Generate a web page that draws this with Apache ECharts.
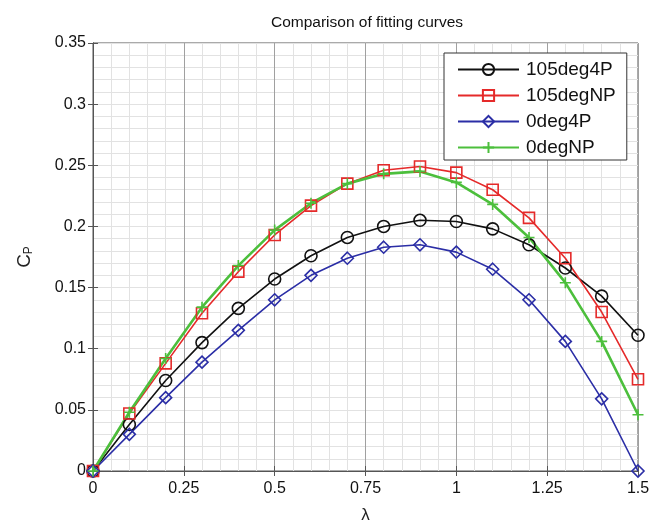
<!DOCTYPE html>
<html>
<head>
<meta charset="utf-8">
<script src="https://cdn.jsdelivr.net/npm/echarts@6/dist/echarts.min.js"></script>
<style>
html,body{margin:0;padding:0;background:#fff;}
#chart{width:653px;height:524px;}
</style>
</head>
<body>
<div id="chart"></div>
<script>
const lambda = [0, 0.1, 0.2, 0.3, 0.4, 0.5, 0.6, 0.7, 0.8, 0.9, 1.0, 1.1, 1.2, 1.3, 1.4, 1.5];
const cp105deg4P = [0, 0.038, 0.074, 0.105, 0.133, 0.157, 0.176, 0.191, 0.200, 0.205, 0.204, 0.198, 0.185, 0.166, 0.143, 0.111];
const cp105degNP = [0, 0.047, 0.088, 0.129, 0.163, 0.193, 0.217, 0.235, 0.246, 0.249, 0.244, 0.230, 0.207, 0.174, 0.130, 0.075];
const cp0deg4P   = [0, 0.030, 0.060, 0.089, 0.115, 0.140, 0.160, 0.174, 0.183, 0.185, 0.179, 0.165, 0.140, 0.106, 0.059, 0.000];
const cp0degNP   = [0, 0.048, 0.092, 0.134, 0.168, 0.197, 0.219, 0.235, 0.243, 0.245, 0.236, 0.218, 0.191, 0.154, 0.106, 0.046];
const seriesNames = ['105deg4P', '105degNP', '0deg4P', '0degNP'];
const xTicks = [0, 0.25, 0.5, 0.75, 1, 1.25, 1.5];

const FONT = '"Liberation Sans", Arial, sans-serif';
const pair = ys => lambda.map((x, i) => [x, ys[i]]);

const chart = echarts.init(document.getElementById('chart'), null, {renderer: 'canvas'});

function mkSeries(name, ys, color, symbol, size, lw) {
  return {
    name: name, type: 'line', data: pair(ys),
    symbol: symbol, symbolSize: size, showAllSymbol: true,
    lineStyle: {color: color, width: lw},
    itemStyle: {color: 'rgba(255,255,255,0)', borderColor: color, borderWidth: 1.6},
    emphasis: {disabled: true},
    z: 5
  };
}

const plusPath = 'path://M0,5 L10,5 M5,0 L5,10';

const option = {
  animation: false,
  backgroundColor: '#fff',
  textStyle: {fontFamily: FONT},
  title: {
    text: 'Comparison of fitting curves',
    left: 362, top: 10, textAlign: 'center',
    textStyle: {fontFamily: FONT, fontSize: 15.5, fontWeight: 'normal', color: '#111'}
  },
  legend: {
    orient: 'vertical',
    left: 444, top: 53,
    padding: [7, 11, 3, 13],
    itemWidth: 61, itemHeight: 14, itemGap: 7,
    backgroundColor: '#fff',
    borderColor: '#333', borderWidth: 1,
    textStyle: {fontFamily: FONT, fontSize: 19, color: '#111', lineHeight: 18, padding: [0,0,0,2]},
    data: seriesNames
  },
  grid: {left: 93, right: 15, top: 43, bottom: 53, outerBoundsMode: 'none', containLabel: false, show: true, borderColor: '#555', borderWidth: 1, backgroundColor: 'transparent'},
  xAxis: [{
    type: 'value', min: 0, max: 1.5, interval: 0.25,
    name: 'λ', nameLocation: 'middle', nameGap: 36,
    nameTextStyle: {fontFamily: FONT, fontSize: 17, color: '#222'},
    axisLine: {show: true, onZero: false, lineStyle: {color: '#555', width: 1}},
    axisTick: {show: true, inside: true, length: 5, lineStyle: {color: '#555'}},
    axisLabel: {fontFamily: FONT, fontSize: 16, color: '#111', margin: 10},
    splitLine: {show: true, lineStyle: {color: '#a0a0a0', width: 1}},
    minorTick: {show: false, splitNumber: 5},
    minorSplitLine: {show: true, lineStyle: {color: '#e2e2e2', width: 1}}
  }, {
    type: 'value', min: 0, max: 1.5, interval: 0.25, position: 'top',
    axisLine: {show: true, lineStyle: {color: '#555'}},
    axisTick: {show: true, inside: true, length: 5, lineStyle: {color: '#555'}},
    axisLabel: {show: false}, splitLine: {show: false}
  }],
  yAxis: [{
    type: 'value', min: 0, max: 0.35, interval: 0.05,
    name: '{c|C}{s|P}', nameLocation: 'middle', nameGap: 58, nameRotate: 90,
    nameTextStyle: {
      rich: {
        c: {fontFamily: FONT, fontSize: 19, color: '#222'},
        s: {fontFamily: FONT, fontSize: 12, color: '#222', verticalAlign: 'bottom', padding: [8, 0, 0, 0]}
      }
    },
    axisLine: {show: true, onZero: false, lineStyle: {color: '#555', width: 1}},
    axisTick: {show: true, inside: true, length: 5, lineStyle: {color: '#555'}},
    axisLabel: {fontFamily: FONT, fontSize: 16, color: '#111', margin: 7},
    splitLine: {show: true, lineStyle: {color: '#e2e2e2', width: 1}},
    minorTick: {show: false, splitNumber: 5},
    minorSplitLine: {show: true, lineStyle: {color: '#e2e2e2', width: 1}}
  }, {
    type: 'value', min: 0, max: 0.35, interval: 0.05, position: 'right',
    axisLine: {show: true, lineStyle: {color: '#555'}},
    axisTick: {show: true, inside: true, length: 5, lineStyle: {color: '#555'}},
    axisLabel: {show: false}, splitLine: {show: false}
  }],
  series: [
    mkSeries(seriesNames[0], cp105deg4P, '#111111', 'circle', 12, 1.6),
    mkSeries(seriesNames[1], cp105degNP, '#e52a2a', 'rect', 11, 1.6),
    mkSeries(seriesNames[2], cp0deg4P, '#2b2ea6', 'diamond', 12, 1.6),
    mkSeries(seriesNames[3], cp0degNP, '#4cbf3c', plusPath, 11, 2.6)
  ]
};
chart.setOption(option);
</script>
</body>
</html>
